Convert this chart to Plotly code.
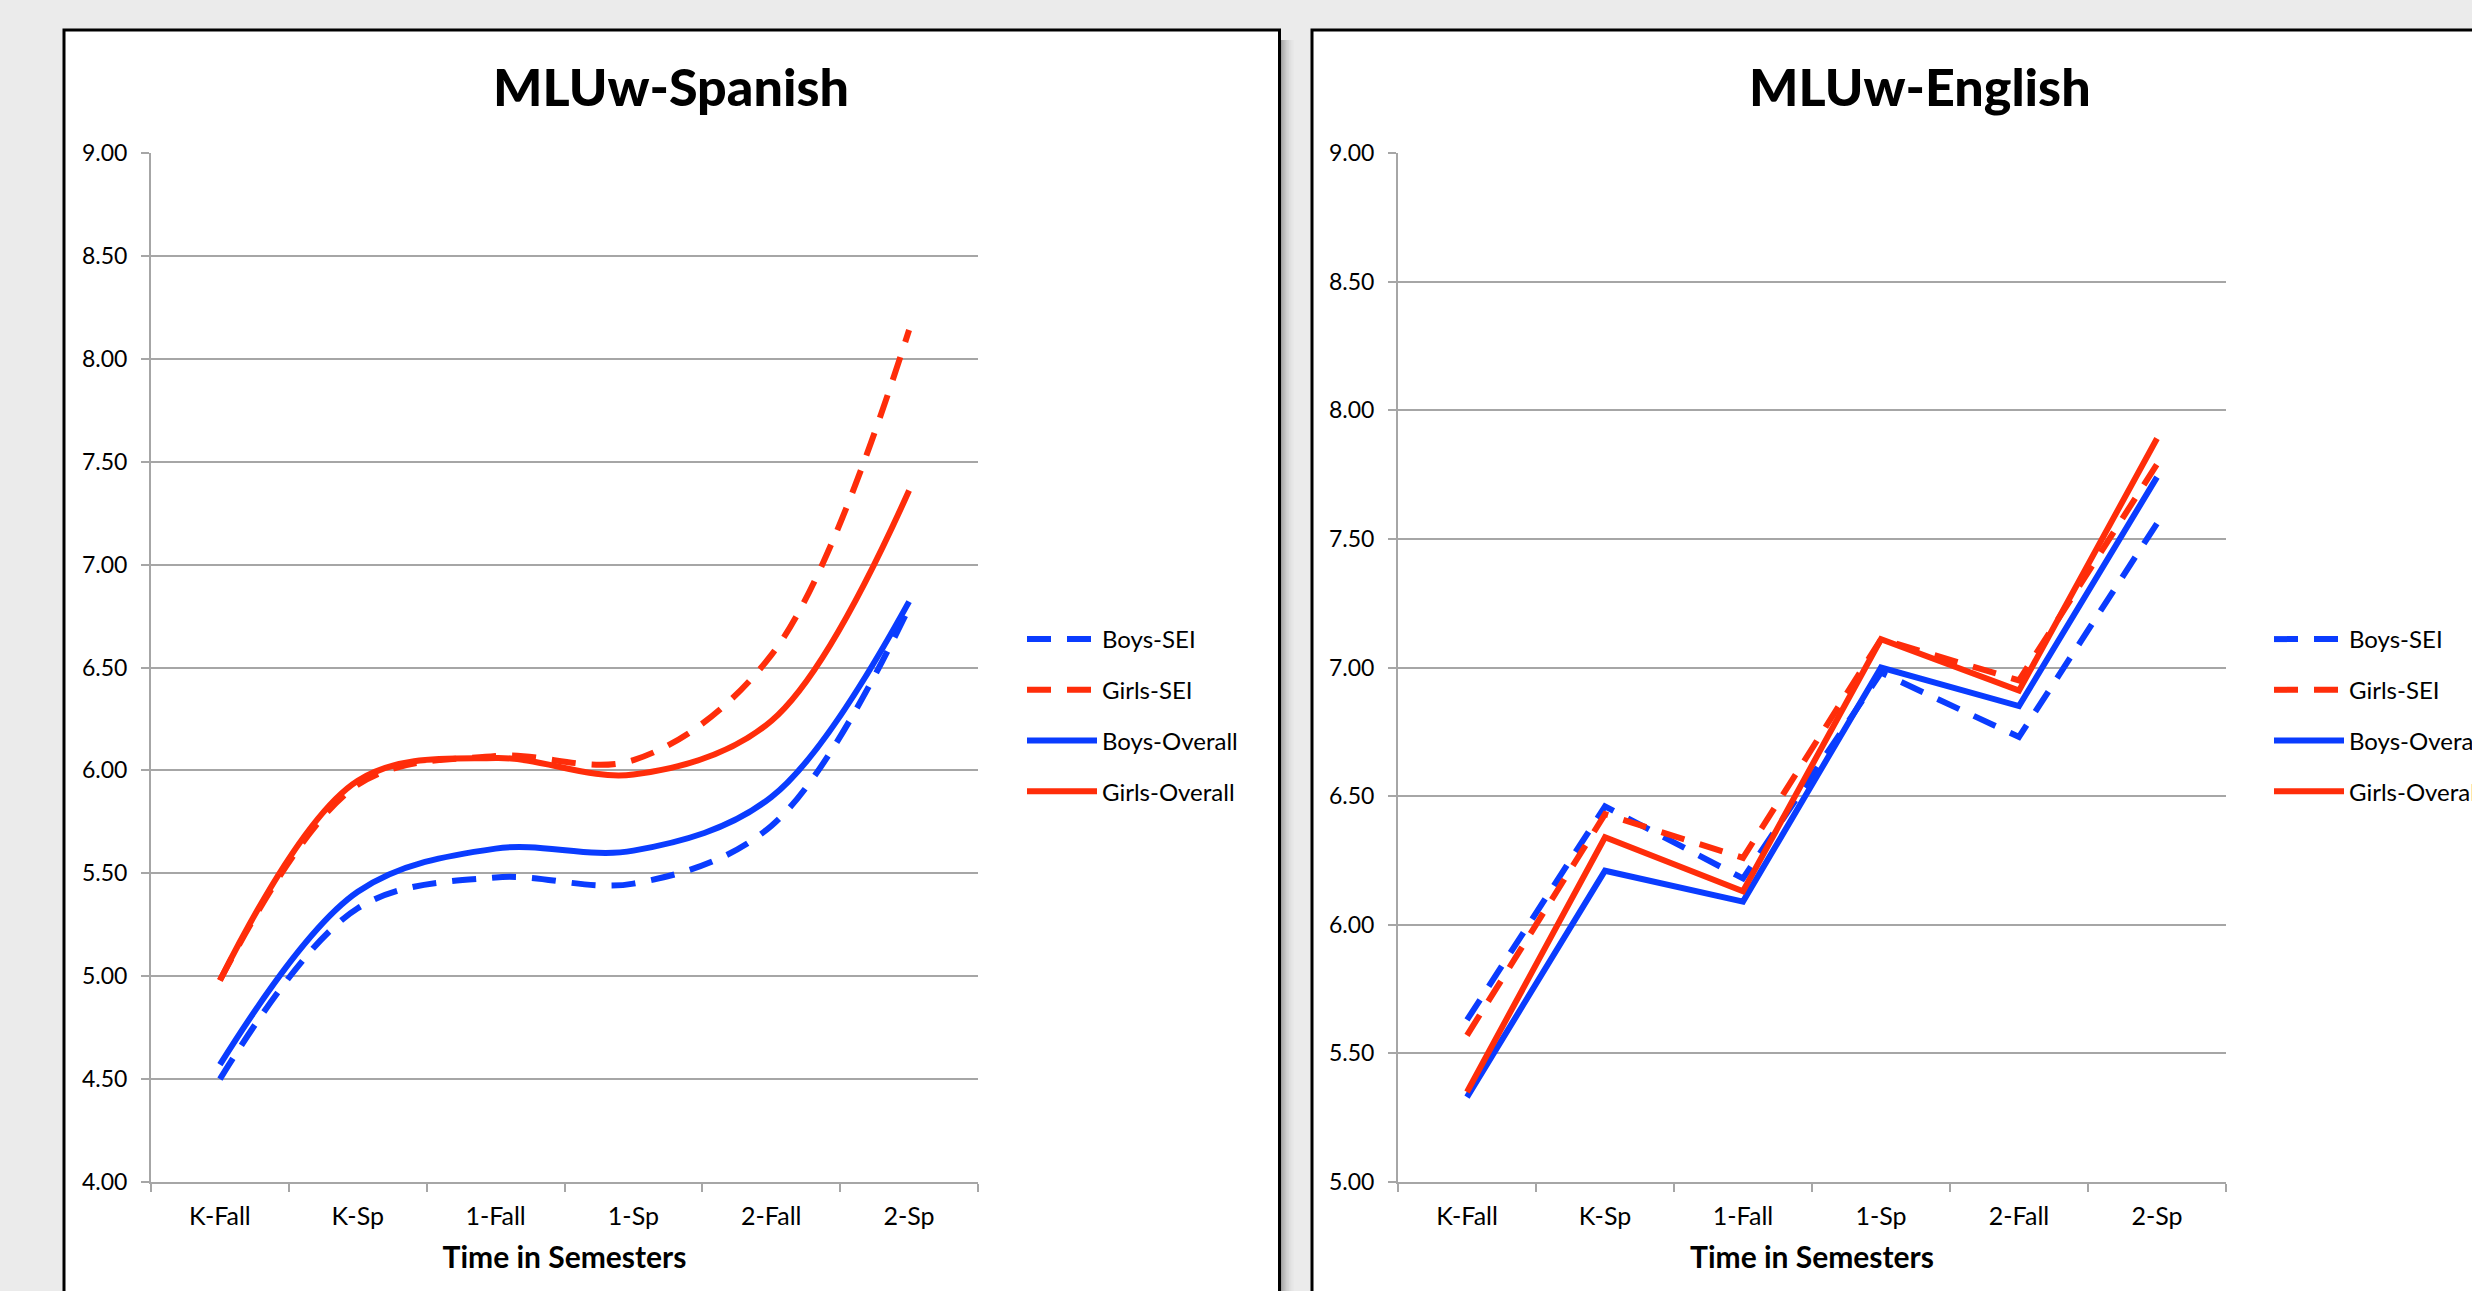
import plotly.graph_objects as go

# Semesters on the x axis
categories = ["K-Fall", "K-Sp", "1-Fall", "1-Sp", "2-Fall", "2-Sp"]
series_names = ["Boys-SEI", "Girls-SEI", "Boys-Overall", "Girls-Overall"]

# Mean length of utterance in words, Spanish
boys_sei_es = [4.50, 5.33, 5.48, 5.45, 5.73, 6.79]
girls_sei_es = [4.98, 5.93, 6.07, 6.05, 6.56, 8.14]
boys_overall_es = [4.57, 5.41, 5.62, 5.61, 5.87, 6.82]
girls_overall_es = [4.98, 5.95, 6.06, 5.98, 6.24, 7.36]

# Mean length of utterance in words, English
boys_sei_en = [5.63, 6.46, 6.18, 6.98, 6.73, 7.56]
girls_sei_en = [5.57, 6.43, 6.26, 7.11, 6.95, 7.79]
boys_overall_en = [5.33, 6.21, 6.09, 7.00, 6.85, 7.74]
girls_overall_en = [5.35, 6.34, 6.13, 7.11, 6.91, 7.89]

W, H = 2472, 1291
BLUE = "#0a3cff"
RED = "#ff2d0a"
GRID = "#a6a6a6"
BG = "#ebebeb"
FONT = "Lato, 'Open Sans', sans-serif"
DASH = "24px,16px"


def fx(x):
    return x / W


def fy(y):
    return 1 - y / H


styles = [
    (BLUE, DASH),
    (RED, DASH),
    (BLUE, "solid"),
    (RED, "solid"),
]

fig = go.Figure()

panels = [
    ("x", "y", "legend", "spline",
     [boys_sei_es, girls_sei_es, boys_overall_es, girls_overall_es]),
    ("x2", "y2", "legend2", "linear",
     [boys_sei_en, girls_sei_en, boys_overall_en, girls_overall_en]),
]

for xa, ya, leg, shape, values in panels:
    for i, (name, vals) in enumerate(zip(series_names, values)):
        color, dash = styles[i]
        fig.add_trace(go.Scatter(
            x=categories, y=vals, name=name, mode="lines",
            line=dict(color=color, width=6, dash=dash, shape=shape),
            xaxis=xa, yaxis=ya, legend=leg, legendgroup=f"{leg}-{i}",
            hoverinfo="skip",
        ))

# Panel frames (white cards with black border) and drop shadow
shapes = []
for k, alpha in enumerate([0.42, 0.34, 0.27, 0.21, 0.16, 0.12, 0.08, 0.05, 0.03, 0.015]):
    x0 = 1281 + k * 1.3
    shapes.append(dict(type="rect", xref="paper", yref="paper",
                       x0=fx(x0), x1=fx(x0 + 1.3), y0=fy(1300), y1=fy(40),
                       fillcolor=f"rgba(60,60,60,{alpha})", line=dict(width=0),
                       layer="below"))
shapes.append(dict(type="rect", xref="paper", yref="paper",
                   x0=fx(64), x1=fx(1279.5), y0=fy(1310), y1=fy(30),
                   fillcolor="white", line=dict(color="black", width=3),
                   layer="below"))
shapes.append(dict(type="rect", xref="paper", yref="paper",
                   x0=fx(1312), x1=fx(2500), y0=fy(1310), y1=fy(30),
                   fillcolor="white", line=dict(color="black", width=3),
                   layer="below"))

annotations = [
    dict(text="MLUw-Spanish", x=fx(671), y=fy(86), xref="paper", yref="paper",
         showarrow=False, xanchor="center", yanchor="middle",
         font=dict(family=FONT, size=52, color="black", weight=900)),
    dict(text="MLUw-English", x=fx(1920), y=fy(86), xref="paper", yref="paper",
         showarrow=False, xanchor="center", yanchor="middle",
         font=dict(family=FONT, size=52, color="black", weight=900)),
]

xaxis_common = dict(
    type="category", range=[-0.5, 5.5], showgrid=False, showline=True,
    linecolor=GRID, linewidth=2, ticks="outside", tickson="boundaries",
    ticklen=8, tickwidth=2, tickcolor=GRID, ticklabelstandoff=11,
    tickfont=dict(family=FONT, size=25, color="black"),
    title=dict(text="Time in Semesters", standoff=18,
               font=dict(family=FONT, size=30, color="black", weight="bold")),
    zeroline=False, fixedrange=True, automargin=False,
)
yaxis_common = dict(
    dtick=0.5, tickformat=".2f", showgrid=True, gridcolor=GRID, gridwidth=2,
    showline=True, linecolor=GRID, linewidth=2, ticks="outside", ticklen=8,
    tickwidth=2, tickcolor=GRID, ticklabelstandoff=9,
    tickfont=dict(family=FONT, size=23, color="black"),
    zeroline=False, fixedrange=True, automargin=False,
)

legend_common = dict(
    xanchor="left", yanchor="top", bgcolor="rgba(0,0,0,0)", borderwidth=0,
    font=dict(family=FONT, size=24, color="black"), traceorder="grouped",
    tracegroupgap=16.5, itemwidth=70,
)

fig.update_layout(
    width=W, height=H,
    margin=dict(l=0, r=0, t=0, b=0, pad=0, autoexpand=False),
    paper_bgcolor=BG, plot_bgcolor="rgba(0,0,0,0)",
    showlegend=True,
    xaxis=dict(domain=[fx(151), fx(978)], anchor="y", **xaxis_common),
    yaxis=dict(domain=[fy(1182), fy(153)], range=[4, 9], anchor="x", **yaxis_common),
    xaxis2=dict(domain=[fx(1398), fx(2226)], anchor="y2", **xaxis_common),
    yaxis2=dict(domain=[fy(1182), fy(153)], range=[5, 9], anchor="x2", **yaxis_common),
    legend=dict(x=fx(1022), y=fy(617), **legend_common),
    legend2=dict(x=fx(2269), y=fy(617), **legend_common),
    shapes=shapes,
    annotations=annotations,
)

fig.write_html("out.html")
